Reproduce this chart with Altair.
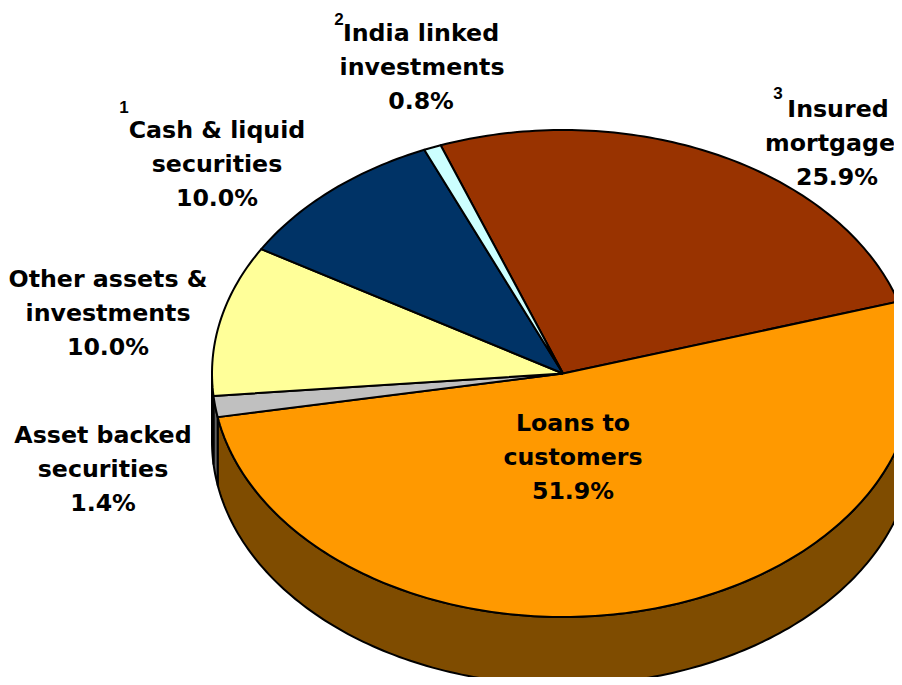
import numpy as np
import pandas as pd
import altair as alt

# Slices, clockwise from the top-left start of the pie
slices = ["Insured mortgage", "Loans to customers", "Asset backed securities",
          "Other assets & investments", "Cash & liquid securities", "India linked investments"]
shares = [25.9, 51.9, 1.4, 10.0, 10.0, 0.8]
top_colors = ["#993300", "#FF9900", "#C0C0C0", "#FFFF99", "#003366", "#CCFFFF"]
wall_colors = ["#4D1A00", "#7F4C00", "#606060", "#7F7F4C", "#001A33", "#667F7F"]

label_lines = ["India linked", "investments", "0.8%",
               "Cash & liquid", "securities", "10.0%",
               "Insured", "mortgage", "25.9%",
               "Other assets &", "investments", "10.0%",
               "Asset backed", "securities", "1.4%",
               "Loans to", "customers", "51.9%"]
label_x = [421, 422, 421, 217, 217, 217, 838, 830, 837, 108, 108, 108, 103, 103, 103, 573, 573, 573]
label_y = [33.5, 67.5, 101.5, 130.5, 164.5, 198.5, 109.5, 143.5, 177.5, 279.5, 313.5, 347.5,
           435.5, 469.5, 503.5, 423.5, 457.5, 491.5]

notes = ["1", "2", "3"]
note_x = [124, 339, 778]
note_y = [108, 20, 94]

# Geometry of the tilted pie
CX, CY, RX, RY, DEPTH, START = 563, 373.5, 351, 243.5, 68, -20.4

def rim(angle_deg, drop=0.0):
    a = np.radians(angle_deg)
    return CX + RX * np.sin(a), CY - RY * np.cos(a) + drop

def arc_angles(a0, a1):
    n = max(2, int(abs(a1 - a0) / 1.0) + 2)
    return np.linspace(a0, a1, n)

top_frames, wall_frames = [], []
edge = START
for name, share, tc, wc in zip(slices, shares, top_colors, wall_colors):
    a0, a1 = edge, edge + share * 3.6
    edge = a1
    ang = arc_angles(a0, a1)
    xs, ys = rim(ang)
    px = np.r_[CX, xs, CX]
    py = np.r_[CY, ys, CY]
    top_frames.append((tc, pd.DataFrame({"px": px, "py": py, "i": np.arange(len(px))})))
    lo, hi = max(a0, 90), min(a1, 270)
    if hi > lo:
        ang = arc_angles(lo, hi)
        xs, ys = rim(ang)
        xb, yb = rim(ang[::-1], DEPTH)
        px = np.r_[xs, xb, xs[0]]
        py = np.r_[ys, yb, ys[0]]
        wall_frames.append((wc, pd.DataFrame({"px": px, "py": py, "i": np.arange(len(px))})))

W, H = 886, 669
x_enc = alt.X("px:Q", scale=alt.Scale(domain=[8, 8 + W], nice=False, zero=False), axis=None)
y_enc = alt.Y("py:Q", scale=alt.Scale(domain=[8 + H, 8], nice=False, zero=False), axis=None)

def polygon(color, frame):
    return alt.Chart(frame).mark_line(
        fill=color, stroke="black", strokeWidth=2, clip=True, interpolate="linear", strokeJoin="round"
    ).encode(x=x_enc, y=y_enc, order="i:Q")

layers = [polygon(c, f) for c, f in wall_frames] + [polygon(c, f) for c, f in top_frames]

labels = pd.DataFrame({"px": label_x, "py": label_y, "t": label_lines})
layers.append(alt.Chart(labels).mark_text(
    font="DejaVu Sans", fontWeight="bold", fontSize=23.7, color="black", align="center", baseline="middle", clip=True
).encode(x=x_enc, y=y_enc, text="t:N"))

sup = pd.DataFrame({"px": note_x, "py": note_y, "t": notes})
layers.append(alt.Chart(sup).mark_text(
    font="Liberation Sans", fontWeight="bold", fontSize=17, color="black", align="center", baseline="middle"
).encode(x=x_enc, y=y_enc, text="t:N"))

chart = alt.layer(*layers).properties(
    width=W, height=H, padding=0, autosize=alt.AutoSizeParams(type="none"), background="white"
).configure_view(stroke=None)

chart.save("out.html", embed_options={"renderer": "svg", "actions": False})
